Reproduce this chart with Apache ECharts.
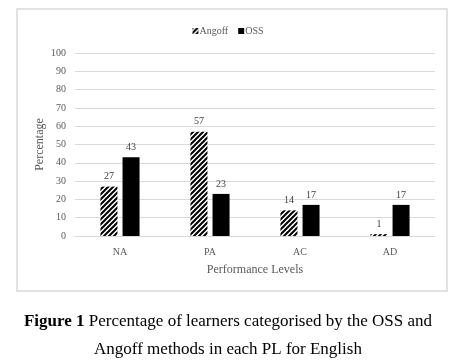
<!DOCTYPE html>
<html>
<head>
<meta charset="utf-8">
<script src="https://cdn.jsdelivr.net/npm/echarts@6/dist/echarts.min.js"></script>
<style>
  html, body { margin: 0; padding: 0; background: #fff; }
  #chart { width: 456px; height: 363px; }
</style>
</head>
<body>
<div id="chart"></div>
<script>
var categories = ["NA", "PA", "AC", "AD"];
var angoffValues = [27, 57, 14, 1];
var ossValues = [43, 23, 17, 17];
var yTicks = [0, 10, 20, 30, 40, 50, 60, 70, 80, 90, 100];

// hatched fill for the Angoff bars
function makeHatch() {
  var c = document.createElement("canvas");
  c.width = 5;
  c.height = 5;
  var ctx = c.getContext("2d");
  ctx.fillStyle = "#fff";
  ctx.fillRect(0, 0, 5, 5);
  ctx.strokeStyle = "#000";
  ctx.lineWidth = 2;
  ctx.beginPath();
  ctx.moveTo(-1, 6); ctx.lineTo(6, -1);
  ctx.moveTo(-1, 1); ctx.lineTo(1, -1);
  ctx.moveTo(4, 6); ctx.lineTo(6, 4);
  ctx.stroke();
  return c;
}
var hatch = makeHatch();

var serif = "'Liberation Serif', 'Times New Roman', serif";
var myChart = echarts.init(document.getElementById("chart"));
var option = {
  animation: false,
  textStyle: { fontFamily: serif },
  graphic: [
    {
      type: "rect",
      shape: { x: 17, y: 9, width: 430, height: 282 },
      style: { fill: "none", stroke: "#d9d9d9", lineWidth: 1.5 }
    }
  ],
  title: [
    {
      text: "{b|Figure 1} Percentage of learners categorised by the OSS and",
      left: "center",
      top: 308,
      textStyle: {
        fontFamily: serif, fontSize: 17, fontWeight: "normal", color: "#000",
        rich: { b: { fontFamily: serif, fontSize: 17, fontWeight: "bold", color: "#000" } }
      }
    },
    {
      text: "Angoff methods in each PL for English",
      left: "center",
      top: 336,
      textStyle: { fontFamily: serif, fontSize: 17, fontWeight: "normal", color: "#000" }
    }
  ],
  legend: {
    top: 21,
    left: "center",
    itemWidth: 6,
    itemHeight: 6,
    itemGap: 10,
    icon: "rect",
    textStyle: { fontFamily: serif, fontSize: 10, color: "#595959", padding: [0, 0, 0, -4] },
    data: ["Angoff", "OSS"]
  },
  grid: { left: 75, right: 21, top: 53, bottom: 127 },
  xAxis: {
    type: "category",
    data: categories,
    name: "Performance Levels",
    nameLocation: "middle",
    nameGap: 28,
    nameTextStyle: { fontFamily: serif, fontSize: 12, color: "#595959" },
    axisLine: { lineStyle: { color: "#d9d9d9" } },
    axisTick: { show: false },
    axisLabel: { fontFamily: serif, fontSize: 10, color: "#595959", margin: 11 }
  },
  yAxis: {
    type: "value",
    min: 0,
    max: 100,
    interval: 10,
    name: "Percentage",
    nameLocation: "middle",
    nameGap: 29,
    nameMoveOverlap: false,
    nameTextStyle: { fontFamily: serif, fontSize: 12, color: "#595959" },
    axisLine: { show: false },
    axisTick: { show: false },
    splitLine: { lineStyle: { color: "#d9d9d9" } },
    axisLabel: {
      fontFamily: serif, fontSize: 10, color: "#595959", margin: 9,
      formatter: function (v) { return yTicks.indexOf(v) >= 0 ? v : ""; }
    }
  },
  series: [
    {
      name: "Angoff",
      type: "bar",
      data: angoffValues,
      barWidth: 17,
      barGap: "30%",
      itemStyle: { color: { image: hatch, repetition: "repeat" } },
      label: { show: true, position: "top", distance: 5, fontFamily: serif, fontSize: 10, color: "#404040" }
    },
    {
      name: "OSS",
      type: "bar",
      data: ossValues,
      barWidth: 17,
      barGap: "30%",
      itemStyle: { color: "#000" },
      label: { show: true, position: "top", distance: 5, fontFamily: serif, fontSize: 10, color: "#404040" }
    }
  ]
};
myChart.setOption(option);
window.onresize = myChart.resize;
</script>
</body>
</html>
